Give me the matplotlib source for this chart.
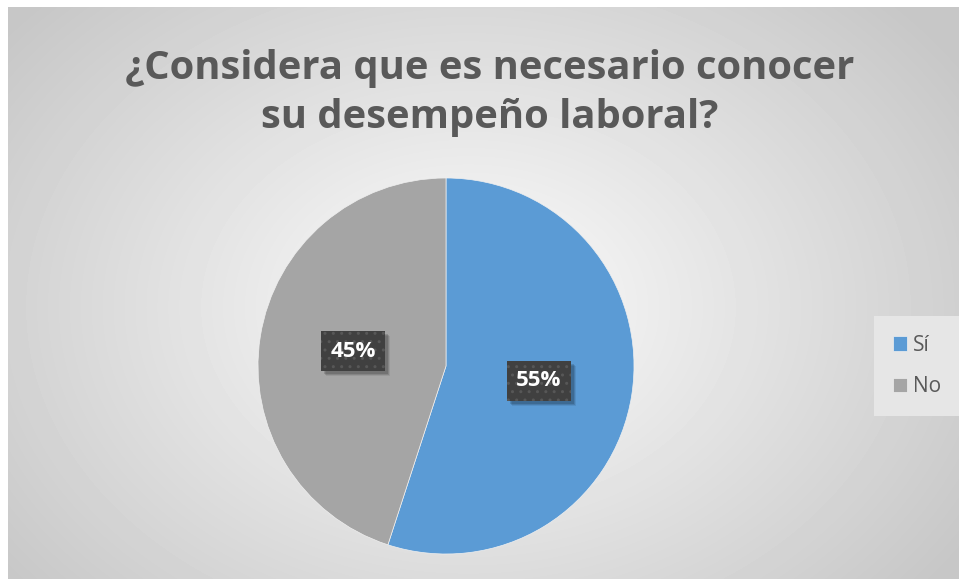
import numpy as np
import matplotlib
matplotlib.use('Agg')
import matplotlib.pyplot as plt
from matplotlib.patches import Rectangle
from matplotlib.transforms import IdentityTransform

# survey answers
labels = ['Sí', 'No']
shares = [55, 45]
colors = ['#5B9BD5', '#A5A5A5']
title = '¿Considera que es necesario conocer\nsu desempeño laboral?'

plt.rcParams['font.family'] = ['Open Sans', 'DejaVu Sans']

fig = plt.figure(figsize=(9.59, 5.79), dpi=100)
fig.patch.set_facecolor('white')

# radial gradient background of the chart area
bg = fig.add_axes([8 / 959, 0, 1 - 8 / 959, 1 - 7 / 579])
bg.set_axis_off()
yy, xx = np.mgrid[0:572, 0:951]
cx, cy = 460, 300
d = np.sqrt(((xx - cx) / 560.0) ** 2 + ((yy - cy) / 420.0) ** 2)
shade = np.clip(0.99 - 0.2 * d, 0.78, 1.0)
bg.imshow(shade, cmap='gray', vmin=0, vmax=1, aspect='auto', interpolation='bilinear')

fig.text(489.5 / 959, 0.84, title, ha='center', va='center', fontsize=28.8,
         fontweight='bold', color='#595959', linespacing=1.34)

ax = fig.add_axes([(446 - 188) / 959, (579 - 554) / 579, 376 / 959, 376 / 579])
wedges, _, autotexts = ax.pie(shares, colors=colors, startangle=90, counterclock=False,
                              autopct='%1.0f%%', pctdistance=0.5,
                              wedgeprops=dict(linewidth=0.5, edgecolor='#f0f0f0'))
ax.set_xlim(-1, 1)
ax.set_ylim(-1, 1)
ax.set_aspect('equal')

for t in autotexts:
    t.set_color('white')
    t.set_fontsize(16)
    t.set_fontweight('bold')
    t.set_zorder(5)
    t.set_bbox(dict(boxstyle='square,pad=0.42', linewidth=0, facecolor='#404040',
                    edgecolor='#575757', hatch='..'))

# soft drop shadow behind each label box
fig.canvas.draw()
for t in autotexts:
    ext = t.get_bbox_patch().get_window_extent()
    for k, a in [(5, 0.08), (4, 0.12), (3, 0.14)]:
        ax.add_patch(Rectangle((ext.x0 + k, ext.y0 - k), ext.width, ext.height,
                               transform=IdentityTransform(), facecolor='black', alpha=a,
                               linewidth=0, zorder=4, clip_on=False))

leg = fig.legend(wedges, labels, loc='center', bbox_to_anchor=(917 / 959, 1 - 366 / 579),
                 frameon=True, fontsize=15, labelspacing=1.0, handlelength=0.7,
                 handleheight=0.7, handletextpad=0.3, borderpad=0.6)
leg.get_frame().set_facecolor('#e6e6e6')
leg.get_frame().set_edgecolor('none')
leg.get_frame().set_alpha(1)
leg.get_frame().set_boxstyle('square')
for txt in leg.get_texts():
    txt.set_color('#595959')

fig.savefig('out.png', dpi=100)
